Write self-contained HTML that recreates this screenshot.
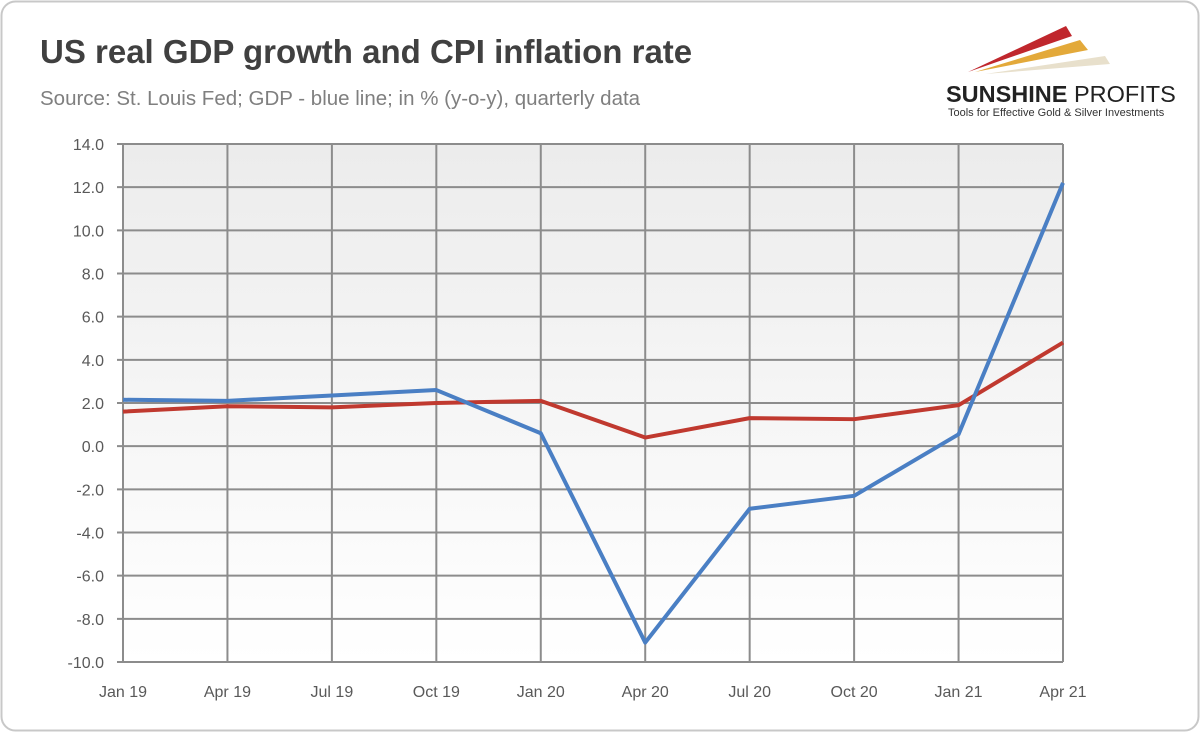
<!DOCTYPE html>
<html><head><meta charset="utf-8"><style>
body{margin:0;background:#fff;font-family:"Liberation Sans",sans-serif;}
#wrap{position:relative;width:1200px;height:732px;}
</style></head><body>
<div id="wrap">
<svg id="svg" width="1200" height="732">
<defs><linearGradient id="bg" x1="0" y1="0" x2="0" y2="1"><stop offset="0" stop-color="#ececec"/><stop offset="1" stop-color="#ffffff"/></linearGradient></defs>
<rect x="1.5" y="1.5" width="1197" height="729" rx="14" fill="#fff" stroke="#c8c8c8" stroke-width="2"/>
<text x="40" y="63" font-size="33" font-weight="bold" fill="#404040">US real GDP growth and CPI inflation rate</text>
<text x="40" y="105" font-size="20.5" fill="#7f7f7f">Source: St. Louis Fed; GDP - blue line; in % (y-o-y), quarterly data</text>
<g>
<polygon points="968,72 1066,26 1072,36" fill="#c0272d"/>
<polygon points="975,72 1080,40 1088,50" fill="#e3a93a"/>
<polygon points="985,74 1105,56 1110,64" fill="#e8e0cc"/>
<text x="946" y="102" font-size="23.5" font-weight="bold" fill="#222">SUNSHINE <tspan font-weight="normal">PROFITS</tspan></text>
<text x="948" y="116" font-size="11" fill="#333">Tools for Effective Gold &amp; Silver Investments</text>
</g>
<g id="plot"></g>
</svg>
</div>
<script>
const categories=["Jan 19","Apr 19","Jul 19","Oct 19","Jan 20","Apr 20","Jul 20","Oct 20","Jan 21","Apr 21"];
const gdp=[2.15,2.1,2.35,2.6,0.6,-9.1,-2.9,-2.3,0.55,12.2];
const cpi=[1.6,1.85,1.8,2.0,2.1,0.4,1.3,1.25,1.9,4.8];
const yTicks=[14,12,10,8,6,4,2,0,-2,-4,-6,-8,-10];
const L=123,R=1063,T=144,B=662,yMin=-10,yMax=14;
const xs=i=>L+(R-L)*i/(categories.length-1);
const ys=v=>T+(yMax-v)/(yMax-yMin)*(B-T);
const NS="http://www.w3.org/2000/svg";
const g=document.getElementById('plot');
function mk(t,a){const e=document.createElementNS(NS,t);for(const k in a)e.setAttribute(k,a[k]);g.appendChild(e);return e;}
let bg=mk('rect',{x:L,y:T,width:R-L,height:B-T,fill:'url(#bg)'});


yTicks.forEach(v=>{
 let l=mk('line',{x1:L-6,x2:R,y1:ys(v),y2:ys(v),stroke:'#8c8c8c','stroke-width':2});
 
 
 let t=mk('text',{x:104,y:ys(v)+6,'text-anchor':'end','font-size':16,fill:'#595959'});
 t.textContent=v.toFixed(1);
 
 
});
categories.forEach((c,i)=>{
 let l=mk('line',{x1:xs(i),x2:xs(i),y1:T,y2:B,stroke:'#8c8c8c','stroke-width':2});
 
 
 let t=mk('text',{x:xs(i),y:697,'text-anchor':'middle','font-size':16,fill:'#595959'});
 t.textContent=c;
 
 
});
function line(d,col,name){
 let p=mk('polyline',{points:d.map((v,i)=>xs(i)+','+ys(v)).join(' '),fill:'none',stroke:col,'stroke-width':4,'stroke-linejoin':'round'});
 
 
}
line(cpi,'#c0392f','cpi-line');
line(gdp,'#4a7fc4','gdp-line');
</script>
</body></html>
